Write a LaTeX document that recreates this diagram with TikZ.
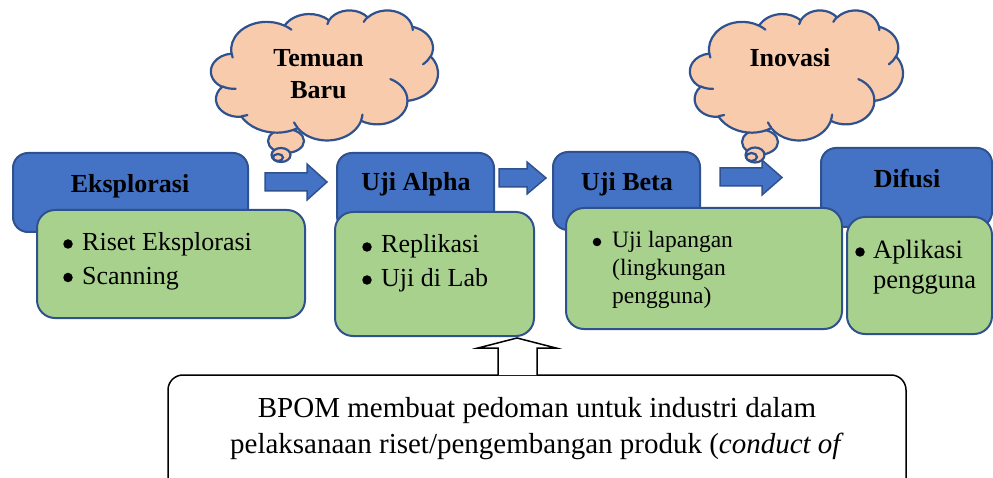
\documentclass[tikz,border=0pt]{standalone}
\usepackage{fontspec}
\setmainfont{Liberation Serif}
\definecolor{blueF}{HTML}{4472C4}
\definecolor{bordc}{HTML}{2F528F}
\definecolor{greenF}{HTML}{A9D18E}
\definecolor{cloudF}{HTML}{F8CBAD}
\newcommand\cloudarc[4]{arc[x radius=#1, y radius=#2, start angle={#3+off(#3,#1,#2)}, delta angle={#4+off(#3+#4,#1,#2)-off(#3,#1,#2)}]}
\newcommand\officecloud[4]{%
  \begin{scope}[shift={(#1,#2)}, xscale=#3/43.2, yscale=#4/43.2]
  \draw[cloudfill] (3.900,14.370)
    \cloudarc{6.753}{9.190}{-190.4875}{123.7805}
    \cloudarc{5.333}{7.267}{-144.1024}{89.9452}
    \cloudarc{4.365}{5.945}{-145.8079}{99.7230}
    \cloudarc{4.857}{6.595}{-130.9861}{117.2417}
    \cloudarc{5.333}{7.273}{-78.7089}{109.0269}
    \cloudarc{6.775}{9.220}{-46.2673}{130.2690}
    \cloudarc{5.785}{7.867}{0.6250}{114.0333}
    \cloudarc{6.752}{9.215}{22.4516}{115.1726}
    \cloudarc{7.720}{10.543}{66.2426}{75.7110}
    \cloudarc{4.360}{5.918}{-274.9421}{146.7356}
    \cloudarc{4.345}{5.945}{-246.8285}{152.5189} -- cycle;
  \draw[cloudline]
    (4.693,26.177) \cloudarc{4.345}{5.945}{86.7420}{26.4295}
    (6.928,34.899) \cloudarc{4.360}{5.918}{73.6105}{11.4475}
    (16.478,39.090) \cloudarc{6.752}{9.215}{137.6242}{14.0811}
    (28.827,34.751) \cloudarc{6.752}{9.215}{6.4533}{15.9984}
    (34.129,22.954) \cloudarc{5.785}{7.867}{-70.2924}{70.9174}
    (41.798,15.354) \cloudarc{5.333}{7.273}{30.3180}{27.7515}
    (38.324,5.426) \cloudarc{4.857}{6.595}{-13.7443}{14.8589}
    (29.078,3.952) \cloudarc{4.857}{6.595}{-149.1815}{18.1954}
    (22.141,4.720) \cloudarc{4.365}{5.945}{-163.4943}{17.6864}
    (14.000,5.192) \cloudarc{6.753}{9.190}{-66.7070}{12.3194}
    (4.127,15.789) \cloudarc{6.753}{9.190}{157.6544}{11.8582};
  \end{scope}}
\begin{document}
\begin{tikzpicture}[x=1pt, y=-1pt,
  declare function={off(\a,\p,\q)=atan2(\p*sin(\a),\q*cos(\a))-\a-360*round((atan2(\p*sin(\a),\q*cos(\a))-\a)/360);},
  cloudfill/.style={draw=bordc, fill=cloudF, line width=2.2pt, line join=round},
  cloudline/.style={draw=bordc, line width=2.2pt, line cap=round},
  bubble/.style={draw=bordc, fill=cloudF, line width=2.2pt},
  bluebox/.style={draw=bordc, fill=blueF, line width=2pt, rounded corners=15pt, rectangle, anchor=north west, inner sep=0pt, outer sep=0pt},
  greenbox/.style={draw=bordc, fill=greenF, line width=2pt, rounded corners=18pt, rectangle, anchor=north west, inner sep=0pt, outer sep=0pt},
  barrow/.style={draw=bordc, fill=blueF, line width=1.5pt, line join=miter},
  uparrow/.style={draw=black, fill=white, line width=1.5pt, line join=miter},
  notebox/.style={draw=black, fill=white, line width=1.5pt, rounded corners=15pt, rectangle, anchor=north west, inner sep=0pt, outer sep=0pt},
  head/.style={inner sep=0pt, anchor=base, font=\fontsize{26}{31}\selectfont\bfseries},
  ctext/.style={inner sep=0pt, anchor=base, font=\fontsize{26}{31}\selectfont\bfseries},
  dot/.style={circle, fill=black, inner sep=0pt, minimum size=#1},
  itemtxt/.style={inner sep=0pt, anchor=base west, font=\fontsize{#1}{#1}\selectfont},
  notetxt/.style={inner sep=0pt, anchor=base, font=\fontsize{29}{36}\selectfont}]
\path[use as bounding box] (0,0) rectangle (993,478);
\clip (0,0) rectangle (993,478);

% thought bubbles (tails)
\draw[bubble] (286,141) ellipse [x radius=18, y radius=12];
\draw[bubble] (281,155) ellipse [x radius=9.5, y radius=7];
\draw[bubble] (278,157.5) ellipse [x radius=5, y radius=3.5];
\draw[bubble] (760,142) ellipse [x radius=18, y radius=12.5];
\draw[bubble] (755,155) ellipse [x radius=9.5, y radius=7.5];
\draw[bubble] (751.5,157) ellipse [x radius=5.5, y radius=4];

% clouds
\officecloud{211}{10}{227}{130}
\officecloud{690}{10}{213}{130}
\node[ctext] (temuan) at (318.5,67) {Temuan};
\node[ctext] (baru) at (318.5,99) {Baru};
\node[ctext] (inovasi) at (790,67) {Inovasi};

% blue stage boxes
\node[bluebox, minimum width=235, minimum height=79] (eks) at (13,153) {};
\node[bluebox, minimum width=157, minimum height=78] (alpha) at (337,153) {};
\node[bluebox, minimum width=147, minimum height=78] (beta) at (553,152) {};
\node[bluebox, minimum width=171, minimum height=79] (difusi) at (821,148) {};
\node[head] (teks) at (130,193) {Eksplorasi};
\node[head] (talpha) at (416,191) {Uji Alpha};
\node[head] (tbeta) at (627,191) {Uji Beta};
\node[head] (tdifusi) at (907,188) {Difusi};

% green detail boxes
\node[greenbox, minimum width=268, minimum height=108] (g1) at (37,210) {};
\node[greenbox, minimum width=199, minimum height=124] (g2) at (335,212) {};
\node[greenbox, minimum width=276, minimum height=121] (g3) at (566,208) {};
\node[greenbox, minimum width=145, minimum height=117] (g4) at (847,217) {};

\node[dot=9.5] (b11) at (68,244) {};
\node[itemtxt=26] (i11) at (82,251) {Riset Eksplorasi};
\node[dot=9.5] (b12) at (68,277.5) {};
\node[itemtxt=26] (i12) at (82,285) {Scanning};

\node[dot=9.5] (b21) at (367,247) {};
\node[itemtxt=26] (i21) at (381,253) {Replikasi};
\node[dot=9.5] (b22) at (367,280) {};
\node[itemtxt=26] (i22) at (381,287) {Uji di Lab};

\node[dot=8.5] (b31) at (597,242) {};
\node[itemtxt=23.5] (i31) at (612,248) {Uji lapangan};
\node[itemtxt=23.5] (i32) at (612,275.5) {(lingkungan};
\node[itemtxt=23.5] (i33) at (612,303) {pengguna)};

\node[dot=9.5] (b41) at (860,252) {};
\node[itemtxt=26.5] (i41) at (873,259) {Aplikasi};
\node[itemtxt=26.5] (i42) at (873,289) {pengguna};

% block arrows
\draw[barrow] (265,173) -- (307,173) -- (307,164) -- (327,182) -- (307,200) -- (307,191) -- (265,191) -- cycle;
\draw[barrow] (499,169) -- (527,169) -- (527,162) -- (546,178) -- (527,194) -- (527,187) -- (499,187) -- cycle;
\draw[barrow] (720,168) -- (762,168) -- (762,160) -- (782,177.5) -- (762,195) -- (762,186) -- (720,186) -- cycle;

% BPOM note box and up arrow
\node[notebox, minimum width=738, minimum height=130] (bpom) at (168,375) {};
\coordinate (upbase) at (517.5,375);
\coordinate (uptip) at (517,338);
\draw[uparrow] ([xshift=-19.5]upbase) -- ([xshift=-19.5,yshift=27]upbase) -- ([xshift=-39.5,yshift=27]upbase) -- (uptip) -- ([xshift=38.5,yshift=27]upbase) -- ([xshift=19.5,yshift=27]upbase) -- ([xshift=19.5]upbase);
\node[notetxt] (n1) at (537,417) {BPOM membuat pedoman untuk industri dalam};
\node[notetxt] (n2) at (537,453) {pelaksanaan riset/pengembangan produk (\textit{conduct of}};
\end{tikzpicture}
\end{document}
